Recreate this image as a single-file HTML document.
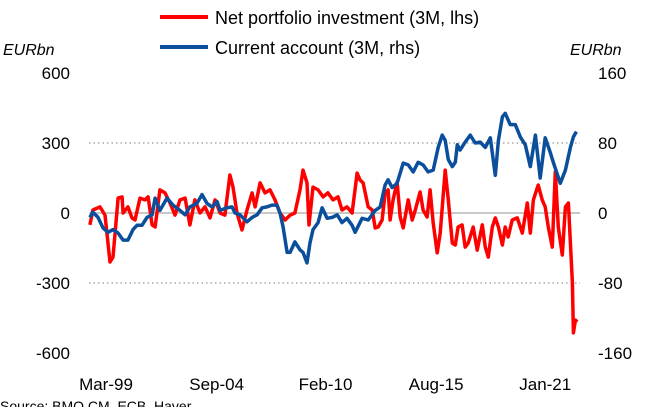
<!DOCTYPE html>
<html><head><meta charset="utf-8"><style>
body{margin:0;background:#fff;width:657px;height:407px;overflow:hidden;font-family:"Liberation Sans",Arial,sans-serif}
svg text{font-family:"Liberation Sans",Arial,sans-serif;fill:#000}
</style></head><body>
<svg id="chart" width="657" height="407" viewBox="0 0 657 407" xmlns="http://www.w3.org/2000/svg">
<g id="grid"></g><g id="series"></g><g id="axes"></g>
<g>
<line x1="160" y1="17" x2="208" y2="17" stroke="#ff0000" stroke-width="4"/>
<text x="215" y="24" font-size="18">Net portfolio investment (3M, lhs)</text>
<line x1="160" y1="47" x2="208" y2="47" stroke="#0b4f9c" stroke-width="4"/>
<text x="215" y="54" font-size="18">Current account (3M, rhs)</text>
</g>
<text x="3" y="55" font-size="16" font-style="italic">EURbn</text>
<text x="570" y="55" font-size="16" font-style="italic">EURbn</text>
<text x="0" y="411" font-size="14">Source: BMO CM, ECB, Haver</text>
</svg>
<script>
const leftTicks=[600,300,0,-300,-600];
const rightTicks=[160,80,0,-80,-160];
const xLabels=["Mar-99","Sep-04","Feb-10","Aug-15","Jan-21"];
const xLabelDates=[1999.17,2004.67,2010.08,2015.58,2021.0];
const redDates=[1998.37,1998.52,1998.87,1999.12,1999.37,1999.52,1999.77,1999.97,2000.02,2000.26,2000.46,2000.61,2000.86,2001.11,2001.26,2001.46,2001.61,2001.85,2002.10,2002.35,2002.60,2002.85,2003.10,2003.34,2003.59,2003.84,2004.09,2004.34,2004.59,2004.84,2005.08,2005.33,2005.48,2005.68,2005.93,2006.18,2006.43,2006.58,2006.83,2007.07,2007.32,2007.57,2007.82,2008.07,2008.32,2008.56,2008.81,2008.96,2009.16,2009.26,2009.46,2009.71,2009.96,2010.20,2010.45,2010.70,2010.90,2011.15,2011.40,2011.65,2011.80,2011.95,2012.20,2012.40,2012.55,2012.70,2012.89,2013.04,2013.19,2013.29,2013.44,2013.64,2013.79,2013.94,2014.19,2014.39,2014.54,2014.78,2014.93,2015.13,2015.28,2015.43,2015.63,2015.78,2016.03,2016.18,2016.38,2016.53,2016.67,2016.87,2017.02,2017.17,2017.42,2017.62,2017.87,2018.02,2018.17,2018.37,2018.52,2018.67,2018.87,2019.01,2019.16,2019.36,2019.61,2019.86,2020.11,2020.26,2020.41,2020.65,2020.85,2021.00,2021.15,2021.35,2021.50,2021.65,2021.85,2022.00,2022.15,2022.35,2022.40,2022.50,2022.59];
const redValues=[-51,13,26,-9,-210,-189,64,69,0,26,-21,-30,64,56,69,-51,-60,99,86,43,-9,56,64,-51,56,0,26,-21,56,0,-9,163,111,0,-73,13,86,26,129,86,99,56,0,-30,-9,0,99,184,129,-51,111,99,69,86,56,69,13,26,0,171,141,129,26,13,-64,-60,-30,86,99,-30,56,133,-17,-64,56,-30,13,90,13,-17,99,-43,-171,-86,184,56,-129,-137,-60,-51,-146,-129,-60,-159,-51,-146,-189,-60,-21,-60,-137,-60,-103,-30,-21,-86,43,-86,56,120,56,26,-60,-146,176,-60,-180,26,43,-300,-514,-459,-467];
const blueDates=[1998.37,1998.52,1998.77,1999.02,1999.27,1999.52,1999.77,2000.02,2000.26,2000.51,2000.71,2000.96,2001.21,2001.46,2001.61,2001.85,2002.20,2002.50,2002.85,2003.10,2003.34,2003.69,2003.94,2004.19,2004.44,2004.69,2004.84,2005.18,2005.43,2005.58,2005.83,2006.18,2006.43,2006.68,2006.93,2007.17,2007.42,2007.67,2007.82,2007.97,2008.17,2008.32,2008.56,2008.81,2008.96,2009.16,2009.31,2009.46,2009.71,2009.91,2010.16,2010.41,2010.66,2010.90,2011.15,2011.40,2011.55,2011.90,2012.20,2012.55,2012.80,2013.04,2013.19,2013.39,2013.64,2013.94,2014.19,2014.44,2014.68,2014.93,2015.18,2015.43,2015.68,2015.88,2016.03,2016.18,2016.38,2016.53,2016.63,2016.77,2017.02,2017.27,2017.52,2017.77,2018.02,2018.27,2018.52,2018.67,2018.87,2019.01,2019.26,2019.51,2019.76,2020.01,2020.26,2020.51,2020.75,2021.00,2021.25,2021.40,2021.75,2022.00,2022.25,2022.40,2022.55];
const blueValues=[-5,1,-5,-17,-22,-19,-23,-31,-31,-19,-14,-14,-5,-2,17,3,17,9,3,-2,7,11,21,11,7,13,3,6,7,0,-2,-10,-5,-2,6,7,9,9,0,-16,-45,-45,-33,-42,-45,-57,-34,-19,-11,6,-6,-5,-2,-11,-6,-14,-22,-6,-8,3,7,32,38,29,34,57,55,47,58,55,47,49,75,89,83,61,53,58,78,72,81,89,80,81,75,86,43,83,110,114,101,101,87,78,53,89,40,86,69,58,34,49,75,87,93];

const NS="http://www.w3.org/2000/svg";
const X0=89,X1=580;
function xs(d){return 106+(d-1999.17)/0.0497;}
function yl(v){return 213-v*70/300;}
function yr(v){return 213-v*70/80;}
function mk(tag,attrs,parent){const e=document.createElementNS(NS,tag);for(const k in attrs)e.setAttribute(k,attrs[k]);parent.appendChild(e);return e;}
const grid=document.getElementById('grid'),axes=document.getElementById('axes'),ser=document.getElementById('series');
leftTicks.forEach((t,i)=>{
  const y=yl(t);
  if(t!==600&&t!==-600){
    const g=mk('line',{x1:X0,x2:X1,y1:y,y2:y,stroke:t===0?'#c8c8c8':'#aaaaaa','stroke-width':t===0?2:1.5,'stroke-dasharray':t===0?'none':'1.5 3'},grid);
    
    
  }
  const tx=mk('text',{x:70,y:y+6,'font-size':17,'text-anchor':'end'},axes);tx.textContent=t;
  
  
  const r=mk('text',{x:598,y:y+6,'font-size':17},axes);r.textContent=rightTicks[i];
  
  
});
xLabels.forEach((l,i)=>{
  const t=mk('text',{x:xs(xLabelDates[i]),y:390,'font-size':17,'text-anchor':'middle'},axes);t.textContent=l;
  
  
});
const rp=mk('polyline',{points:redDates.map((d,i)=>xs(d).toFixed(1)+','+yl(redValues[i]).toFixed(1)).join(' '),fill:'none',stroke:'#ff0000','stroke-width':3.5,'stroke-linejoin':'round'},ser);


const bp=mk('polyline',{points:blueDates.map((d,i)=>xs(d).toFixed(1)+','+yr(blueValues[i]).toFixed(1)).join(' '),fill:'none',stroke:'#0b4f9c','stroke-width':3.5,'stroke-linejoin':'round'},ser);


</script>
</body></html>
